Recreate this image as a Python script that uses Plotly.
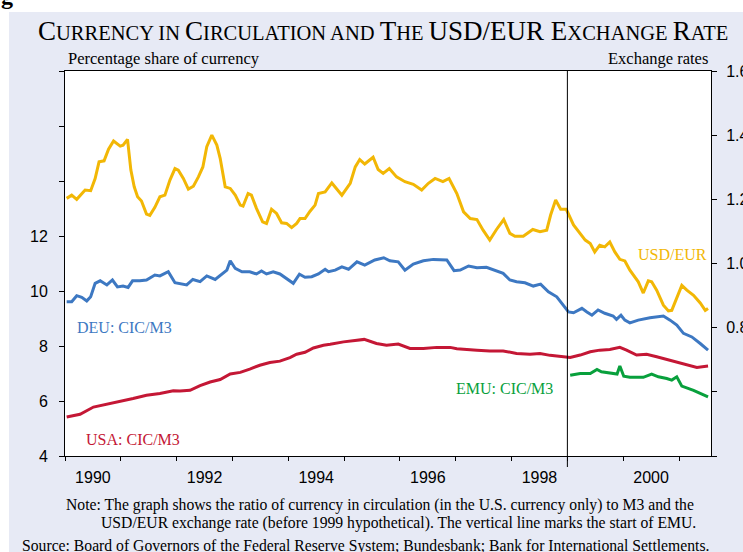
import plotly.graph_objects as go

# ---------------- data ----------------
usd_eur_x = [1990.03, 1990.12, 1990.21, 1990.36, 1990.46, 1990.54, 1990.61, 1990.70, 1990.78, 1990.87,
             1990.99, 1991.04, 1991.12, 1991.18, 1991.24, 1991.30, 1991.37, 1991.46, 1991.52, 1991.61,
             1991.70, 1991.79, 1991.88, 1991.97, 1992.03, 1992.12, 1992.21, 1992.30, 1992.39, 1992.47,
             1992.54, 1992.63, 1992.72, 1992.78, 1992.87, 1992.96, 1993.05, 1993.14, 1993.19, 1993.28,
             1993.34, 1993.43, 1993.54, 1993.61, 1993.70, 1993.79, 1993.88, 1993.97, 1994.06, 1994.15,
             1994.21, 1994.30, 1994.39, 1994.48, 1994.54, 1994.66, 1994.78, 1994.96, 1995.11, 1995.20,
             1995.28, 1995.37, 1995.52, 1995.61, 1995.70, 1995.81, 1995.94, 1996.09, 1996.24, 1996.39,
             1996.51, 1996.63, 1996.77, 1996.88, 1997.02, 1997.14, 1997.26, 1997.38, 1997.49, 1997.61,
             1997.73, 1997.86, 1997.97, 1998.06, 1998.21, 1998.38, 1998.51, 1998.63, 1998.70, 1998.79,
             1998.88, 1998.98, 1999.11, 1999.23, 1999.32, 1999.41, 1999.49, 1999.58, 1999.67, 1999.76,
             1999.85, 1999.94, 2000.03, 2000.12, 2000.27, 2000.36, 2000.45, 2000.51, 2000.60, 2000.72,
             2000.81, 2000.87, 2000.96, 2001.05, 2001.14, 2001.26, 2001.38, 2001.47, 2001.52]
usd_eur = [1.203, 1.213, 1.200, 1.229, 1.227, 1.265, 1.317, 1.320, 1.356, 1.382,
           1.366, 1.369, 1.387, 1.291, 1.239, 1.208, 1.195, 1.154, 1.150, 1.175,
           1.208, 1.213, 1.260, 1.296, 1.291, 1.265, 1.232, 1.241, 1.270, 1.301,
           1.364, 1.400, 1.369, 1.328, 1.239, 1.234, 1.213, 1.182, 1.179, 1.218,
           1.213, 1.172, 1.130, 1.125, 1.169, 1.156, 1.127, 1.125, 1.112, 1.125,
           1.140, 1.140, 1.163, 1.182, 1.218, 1.223, 1.251, 1.213, 1.250, 1.301,
           1.324, 1.310, 1.331, 1.293, 1.281, 1.296, 1.270, 1.255, 1.247, 1.229,
           1.250, 1.265, 1.255, 1.265, 1.218, 1.161, 1.140, 1.137, 1.104, 1.073,
           1.106, 1.137, 1.094, 1.085, 1.085, 1.106, 1.099, 1.104, 1.151, 1.198,
           1.169, 1.169, 1.120, 1.094, 1.073, 1.062, 1.036, 1.057, 1.052, 1.067,
           1.036, 1.013, 1.008, 0.979, 0.943, 0.908, 0.946, 0.943, 0.917, 0.870,
           0.852, 0.854, 0.896, 0.932, 0.917, 0.901, 0.877, 0.854, 0.860]

deu_x = [1990.03, 1990.12, 1990.21, 1990.30, 1990.39, 1990.46, 1990.54, 1990.63, 1990.75, 1990.85,
         1990.94, 1991.04, 1991.13, 1991.21, 1991.34, 1991.46, 1991.61, 1991.70, 1991.85, 1991.97,
         1992.18, 1992.29, 1992.42, 1992.54, 1992.69, 1992.84, 1992.90, 1992.96, 1993.05, 1993.17,
         1993.31, 1993.43, 1993.52, 1993.61, 1993.73, 1993.85, 1993.97, 1994.09, 1994.20, 1994.30,
         1994.42, 1994.54, 1994.66, 1994.72, 1994.84, 1994.96, 1995.08, 1995.23, 1995.37, 1995.55,
         1995.71, 1995.82, 1995.97, 1996.09, 1996.24, 1996.42, 1996.60, 1996.84, 1996.97, 1997.08,
         1997.23, 1997.38, 1997.55, 1997.70, 1997.85, 1997.97, 1998.09, 1998.24, 1998.39, 1998.52,
         1998.66, 1998.81, 1998.93, 1999.02, 1999.11, 1999.26, 1999.35, 1999.44, 1999.55, 1999.67,
         1999.82, 1999.88, 1999.96, 2000.03, 2000.12, 2000.27, 2000.48, 2000.60, 2000.72, 2000.84,
         2000.96, 2001.08, 2001.23, 2001.38, 2001.52]
deu = [9.61, 9.61, 9.83, 9.77, 9.64, 9.79, 10.28, 10.37, 10.22, 10.40,
       10.15, 10.18, 10.13, 10.37, 10.37, 10.40, 10.58, 10.55, 10.70, 10.30,
       10.22, 10.42, 10.34, 10.55, 10.42, 10.64, 10.76, 11.10, 10.82, 10.70,
       10.70, 10.62, 10.73, 10.62, 10.70, 10.62, 10.46, 10.28, 10.61, 10.50,
       10.52, 10.62, 10.79, 10.70, 10.76, 10.88, 10.79, 11.06, 10.94, 11.13,
       11.21, 11.10, 11.06, 10.76, 10.98, 11.10, 11.15, 11.13, 10.74, 10.76,
       10.91, 10.85, 10.86, 10.76, 10.64, 10.40, 10.34, 10.30, 10.18, 10.25,
       9.97, 9.79, 9.49, 9.24, 9.21, 9.37, 9.24, 9.12, 9.31, 9.19,
       9.09, 8.97, 9.12, 8.94, 8.84, 8.94, 9.03, 9.06, 9.09, 8.94,
       8.76, 8.46, 8.33, 8.09, 7.85]

usa_x = [1990.03, 1990.27, 1990.51, 1990.75, 1990.99, 1991.22, 1991.46, 1991.70, 1991.94, 1992.06,
         1992.24, 1992.42, 1992.60, 1992.78, 1992.96, 1993.14, 1993.31, 1993.49, 1993.67, 1993.85,
         1994.03, 1994.15, 1994.30, 1994.45, 1994.63, 1994.75, 1994.99, 1995.16, 1995.36, 1995.58,
         1995.76, 1995.97, 1996.18, 1996.42, 1996.66, 1996.90, 1997.02, 1997.38, 1997.61, 1997.85,
         1998.09, 1998.33, 1998.51, 1998.69, 1998.93, 1999.05, 1999.23, 1999.41, 1999.58, 1999.76,
         1999.94, 2000.06, 2000.24, 2000.42, 2000.60, 2000.78, 2000.96, 2001.14, 2001.32, 2001.52]
usa = [5.42, 5.52, 5.78, 5.88, 5.99, 6.09, 6.21, 6.27, 6.37, 6.36,
       6.39, 6.56, 6.69, 6.78, 6.98, 7.04, 7.16, 7.30, 7.40, 7.45,
       7.58, 7.70, 7.77, 7.93, 8.03, 8.06, 8.15, 8.19, 8.24, 8.09,
       8.03, 8.07, 7.91, 7.91, 7.95, 7.95, 7.90, 7.85, 7.82, 7.82,
       7.73, 7.70, 7.73, 7.66, 7.61, 7.58, 7.67, 7.79, 7.85, 7.87,
       7.95, 7.85, 7.67, 7.70, 7.61, 7.51, 7.42, 7.30, 7.22, 7.27]

emu_x = [1999.05, 1999.23, 1999.41, 1999.53, 1999.61, 1999.82, 1999.89, 1999.94, 2000.01, 2000.12,
         2000.36, 2000.51, 2000.63, 2000.78, 2000.87, 2000.96, 2001.05, 2001.26, 2001.52]
emu = [6.94, 7.00, 7.00, 7.15, 7.06, 7.02, 6.98, 7.27, 6.90, 6.86,
       6.86, 6.98, 6.88, 6.82, 6.76, 6.88, 6.54, 6.39, 6.15]

year_labels = ["1990", "1992", "1994", "1996", "1998", "2000"]
year_ticks = list(range(1990, 2002))
left_ticks = [4, 6, 8, 10, 12, 14, 16, 18]
left_labels = ["4", "6", "8", "10", "12", "", "", ""]
right_ticks = [0.4, 0.6, 0.8, 1.0, 1.2, 1.4, 1.6]
right_labels = ["", "", "0.8", "1.0", "1.2", "1.4", "1.6"]
emu_start = 1999.0

# ---------------- styling ----------------
GOLD = "#F2B705"
BLUE = "#3D78C2"
RED = "#C41735"
GREEN = "#08A03C"
LAV = "#E7EAF5"
SERIF = "Liberation Serif"
SANS = "Liberation Sans"

W, H = 743, 552
L, R, T, B = 65, 32, 71, 96
PW, PH = W - L - R, H - T - B


def pxx(x):
    return (x - L) / PW


def pxy(y):
    return (H - B - y) / PH


fig = go.Figure()
fig.add_trace(go.Scatter(x=usd_eur_x, y=usd_eur, yaxis="y2", mode="lines",
                         line=dict(color=GOLD, width=3), name="USD/EUR"))
fig.add_trace(go.Scatter(x=deu_x, y=deu, mode="lines",
                         line=dict(color=BLUE, width=3), name="DEU: CIC/M3"))
fig.add_trace(go.Scatter(x=usa_x, y=usa, mode="lines",
                         line=dict(color=RED, width=3), name="USA: CIC/M3"))
fig.add_trace(go.Scatter(x=emu_x, y=emu, mode="lines",
                         line=dict(color=GREEN, width=3), name="EMU: CIC/M3"))

ann = []


def text(s, x, y, size, color="black", xanchor="left", family=SERIF):
    ann.append(dict(text=s, x=pxx(x), y=pxy(y),
                    xref="paper", yref="paper", xanchor=xanchor, yanchor="middle",
                    showarrow=False, font=dict(family=family, size=size, color=color)))


def sc(s, small=20.5):
    return "<span style='font-size:%.1fpx'>%s</span>" % (small, s)


title = ("C" + sc("URRENCY IN ") + "C" + sc("IRCULATION AND ") + "T" + sc("HE ") +
         "USD/EUR E" + sc("XCHANGE ") + "R" + sc("ATE"))
ann.append(dict(text=title, x=pxx(383), y=pxy(31), xref="paper", yref="paper",
                xanchor="center", yanchor="middle", showarrow=False,
                font=dict(family=SERIF, size=27, color="black")))

text("Percentage share of currency", 66, 58, 16.5)
text("Exchange rates", 710, 58, 16.5, xanchor="right")
text("USD/EUR", 709, 254, 16, color=GOLD, xanchor="right")
text("DEU: CIC/M3", 75, 327, 16, color=BLUE)
text("EMU: CIC/M3", 454, 388, 16, color=GREEN)
text("USA: CIC/M3", 84, 439, 16, color=RED)
text("Note: The graph shows the ratio of currency in circulation (in the U.S. currency only) to M3 and the",
     64, 505, 15.7)
text("USD/EUR exchange rate (before 1999 hypothetical). The vertical line marks the start of EMU.",
     99, 523, 15.7)
text("Source: Board of Governors of the Federal Reserve System; Bundesbank; Bank for International Settlements.",
     20, 546, 15.7)
ann.append(dict(text="<b>g</b>", x=pxx(-1), y=pxy(11), xref="paper", yref="paper",
                xanchor="left", yanchor="bottom", showarrow=False,
                font=dict(family=SERIF, size=24, color="black")))

shapes = [
    # vertical EMU line
    dict(type="line", xref="x", yref="paper", x0=emu_start, x1=emu_start,
         y0=pxy(467), y1=1, line=dict(color="black", width=1)),
    # white strips at the top and left edge of the page
    dict(type="rect", xref="paper", yref="paper", x0=pxx(0), x1=pxx(W), y0=pxy(12), y1=pxy(0),
         fillcolor="white", line=dict(width=0), layer="above"),
    dict(type="rect", xref="paper", yref="paper", x0=pxx(0), x1=pxx(9), y0=pxy(H), y1=pxy(0),
         fillcolor="white", line=dict(width=0), layer="above"),
]

axis_common = dict(showgrid=False, zeroline=False, showline=True, linecolor="black",
                   linewidth=1, automargin=False)

fig.update_layout(
    width=W, height=H,
    margin=dict(l=L, r=R, t=T, b=B, pad=0),
    paper_bgcolor=LAV, plot_bgcolor="white",
    showlegend=False,
    hovermode=False,
    template="none",
    annotations=ann,
    shapes=shapes,
    xaxis=dict(**axis_common, range=[1990, 2001.573], mirror=True,
               tickmode="array", tickvals=[y + 0.5 for y in range(1990, 2001, 2)],
               ticktext=year_labels, ticks="", ticklabelstandoff=7,
               tickfont=dict(family=SANS, size=16, color="black"),
               minor=dict(tickmode="array", tickvals=year_ticks, ticks="outside",
                          ticklen=4, tickwidth=1, tickcolor="black", showgrid=False)),
    yaxis=dict(**axis_common, range=[4, 18], tickmode="array",
               tickvals=left_ticks, ticktext=left_labels, ticks="outside",
               ticklen=5, tickwidth=1, tickcolor="black", ticklabelstandoff=8,
               tickfont=dict(family=SANS, size=16, color="black")),
    yaxis2=dict(**axis_common, range=[0.4, 1.6], overlaying="y", side="right",
                tickmode="array", tickvals=right_ticks, ticktext=right_labels,
                ticks="outside", ticklen=5, tickwidth=1, tickcolor="black",
                ticklabelstandoff=6,
                tickfont=dict(family=SANS, size=16, color="black")),
)

fig.write_html("out.html", config={"displayModeBar": False, "staticPlot": True},
               post_script="document.body.style.margin='0px';document.body.style.overflow='hidden';")
